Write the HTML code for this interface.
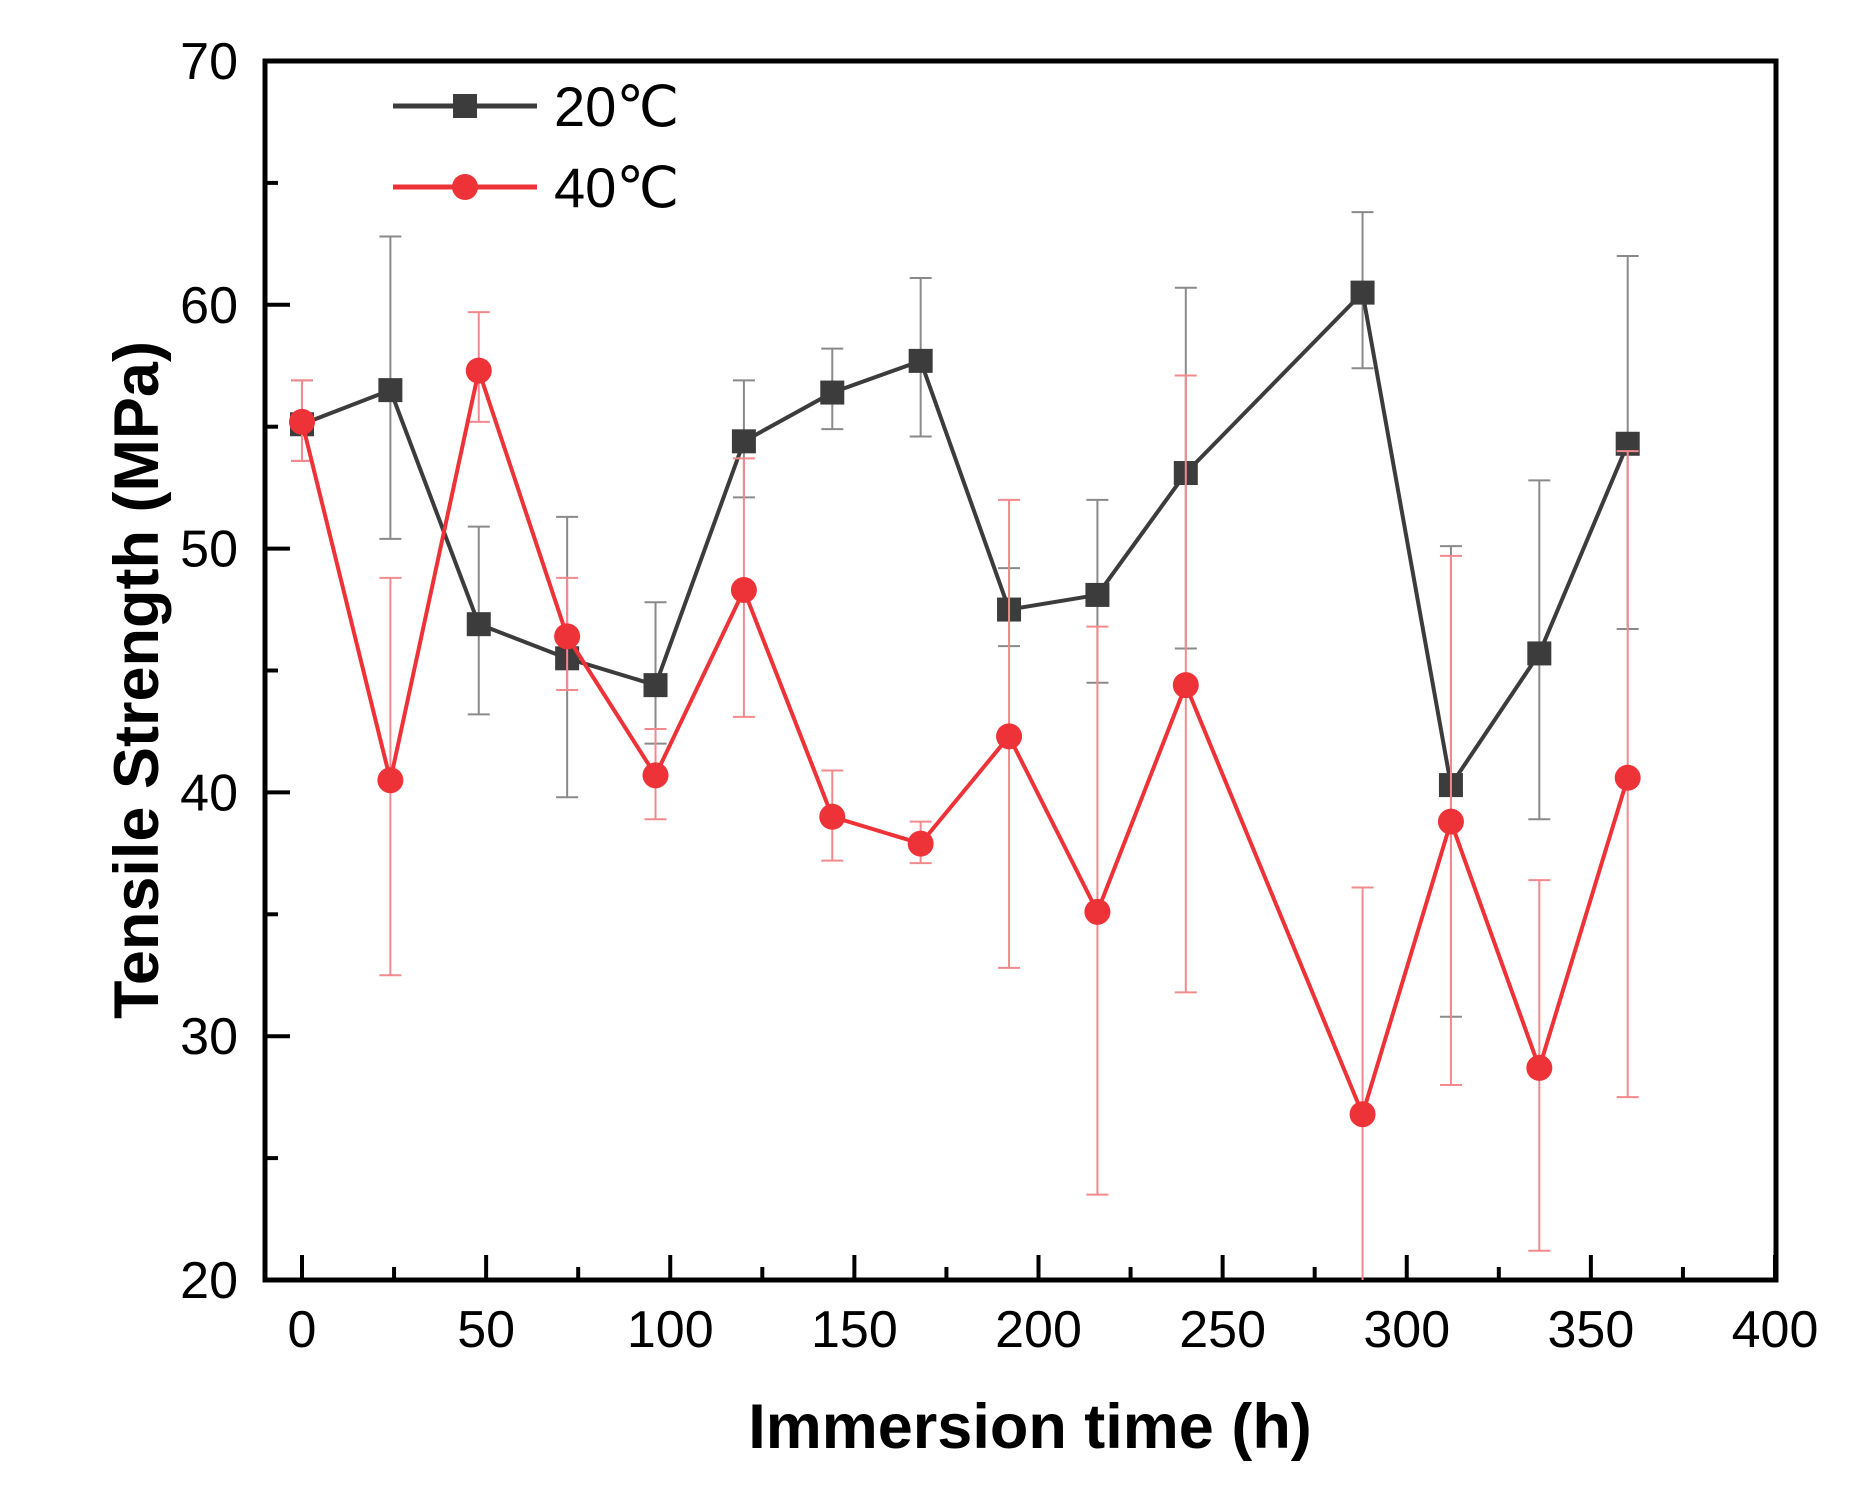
<!DOCTYPE html>
<html><head><meta charset="utf-8"><style>
html,body{margin:0;padding:0;background:#fff;}
svg{display:block;font-family:"Liberation Sans",Arial,sans-serif;}
</style></head><body>
<svg id="chart" width="1858" height="1502" viewBox="0 0 1858 1502">
<rect x="0" y="0" width="1858" height="1502" fill="#fff"/>
<g id="g"></g>
</svg>
<script>
const times=[0,24,48,72,96,120,144,168,192,216,240,288,312,336,360];
const s20=[55.1,56.5,46.9,45.5,44.4,54.4,56.4,57.7,47.5,48.1,53.1,60.5,40.3,45.7,54.3];
const s20hi=[56.9,62.8,50.9,51.3,47.8,56.9,58.2,61.1,49.2,52.0,60.7,63.8,50.1,52.8,62.0];
const s20lo=[53.6,50.4,43.2,39.8,42.0,52.1,54.9,54.6,46.0,44.5,45.9,57.4,30.8,38.9,46.7];
const s40=[55.2,40.5,57.3,46.4,40.7,48.3,39.0,37.9,42.3,35.1,44.4,26.8,38.8,28.7,40.6];
const s40hi=[56.9,48.8,59.7,48.8,42.6,53.7,40.9,38.8,52.0,46.8,57.1,36.1,49.7,36.4,54.0];
const s40lo=[53.6,32.5,55.2,44.2,38.9,43.1,37.2,37.1,32.8,23.5,31.8,17.5,28.0,21.2,27.5];
const xTicks=[0,50,100,150,200,250,300,350,400];
const yTicks=[20,30,40,50,60,70];

const L=265,R=1776,T=61,B=1280;
const X=v=>302+v*(1775-302)/400;
const Y=v=>B-(v-20)*(B-T)/50;
const NS='http://www.w3.org/2000/svg';
const g=document.getElementById('g');
function mk(tag,attrs,parent){const e=document.createElementNS(NS,tag);for(const k in attrs)e.setAttribute(k,attrs[k]);(parent||g).appendChild(e);return e;}

const defs=mk('defs',{});
const cp=mk('clipPath',{id:'clip'},defs);
mk('rect',{x:L,y:T,width:R-L,height:B-T},cp);

const axes=mk('g',{});


xTicks.forEach((v,i)=>{
  const t=mk('line',{x1:X(v),x2:X(v),y1:B,y2:B-25,stroke:'#000','stroke-width':4},axes);
  
  
  if(i<xTicks.length-1){const m=mk('line',{x1:X(v+25),x2:X(v+25),y1:B,y2:B-13,stroke:'#000','stroke-width':4},axes);
  
  }
  const lb=mk('text',{x:X(v),y:1347,'font-size':52,'text-anchor':'middle',fill:'#000'},axes);
  lb.textContent=v;
  
  
});
yTicks.forEach((v,i)=>{
  const t=mk('line',{x1:L,x2:L+25,y1:Y(v),y2:Y(v),stroke:'#000','stroke-width':4},axes);
  
  
  if(i<yTicks.length-1){const m=mk('line',{x1:L,x2:L+13,y1:Y(v+5),y2:Y(v+5),stroke:'#000','stroke-width':4},axes);
  
  }
  const lb=mk('text',{x:238,y:Y(v)+18,'font-size':52,'text-anchor':'end',fill:'#000'},axes);
  lb.textContent=v;
  
  
});
const fr=mk('rect',{x:L,y:T,width:R-L,height:B-T,fill:'none',stroke:'#000','stroke-width':5},axes);



const xt=mk('text',{x:1030,y:1448,'font-size':63,'font-weight':'bold','text-anchor':'middle'});
xt.textContent='Immersion time (h)';


const yt=mk('text',{x:0,y:0,'font-size':63,'font-weight':'bold','text-anchor':'middle',transform:'translate(158,680) rotate(-90)'});
yt.textContent='Tensile Strength (MPa)';



function series(vals,hi,lo,col,errCol,shape,name){
  const sg=mk('g',{'clip-path':'url(#clip)'});
  
  
  times.forEach((t,i)=>{
    const x=X(t);
    const e=mk('g',{stroke:errCol,'stroke-width':2},sg);
    
    
    mk('line',{x1:x,x2:x,y1:Y(hi[i]),y2:Y(lo[i])},e);
    mk('line',{x1:x-11,x2:x+11,y1:Y(hi[i]),y2:Y(hi[i])},e);
    mk('line',{x1:x-11,x2:x+11,y1:Y(lo[i]),y2:Y(lo[i])},e);
  });
  const pl=mk('polyline',{points:times.map((t,i)=>X(t)+','+Y(vals[i])).join(' '),fill:'none',stroke:col,'stroke-width':4},sg);
  
  
  times.forEach((t,i)=>{
    let m;
    if(shape==='sq') m=mk('rect',{x:X(t)-12,y:Y(vals[i])-12,width:24,height:24,fill:col},sg);
    else m=mk('circle',{cx:X(t),cy:Y(vals[i]),r:13,fill:col},sg);
    
    
  });
}
series(s20,s20hi,s20lo,'#3c3c3c','#8a8a8a','sq','20c');
series(s40,s40hi,s40lo,'#ee3338','#f28a8d','ci','40c');

const lg=mk('g',{});


[['20℃','#3c3c3c','sq',106],['40℃','#ee3338','ci',187]].forEach(([lab,c,sh,y])=>{
  const en=mk('g',{},lg);
  
  
  mk('line',{x1:393,x2:537,y1:y,y2:y,stroke:c,'stroke-width':5},en);
  if(sh==='sq') mk('rect',{x:453,y:y-12,width:24,height:24,fill:c},en);
  else mk('circle',{cx:465,cy:y,r:13,fill:c},en);
  const t=mk('text',{x:554,y:y+20,'font-size':56,fill:'#000'},en);
  t.textContent=lab;
});
</script>
</body></html>
